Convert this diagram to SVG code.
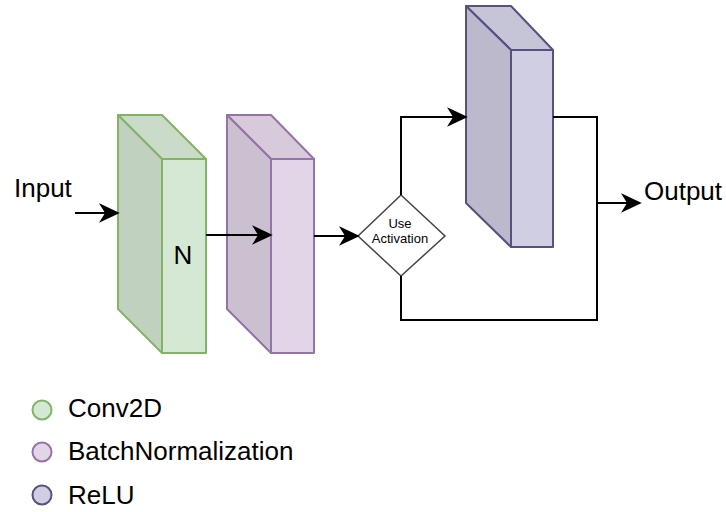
<svg xmlns="http://www.w3.org/2000/svg" width="726" height="512" viewBox="0 0 726 512">
<style>
text{font-family:"Liberation Sans",Arial,sans-serif;fill:#000}
.lbl{font-size:26px}
.small{font-size:13px}
.edge{fill:none;stroke:#000;stroke-width:2}
.g{stroke:#82b366;stroke-width:2;stroke-linejoin:round}
.p{stroke:#9673a6;stroke-width:2;stroke-linejoin:round}
.r{stroke:#56517e;stroke-width:2;stroke-linejoin:round}
</style>
<defs>
<marker id="arr" markerUnits="userSpaceOnUse" markerWidth="20" markerHeight="18" refX="18" refY="9" orient="auto" viewBox="0 0 20 18" overflow="visible">
<path d="M1,1 L18,9 L1,17 L6,9 z" fill="#000" stroke="#000" stroke-width="1.5" stroke-linejoin="miter"/>
</marker>
</defs>
<rect width="726" height="512" fill="#fff"/>
<text class="lbl" x="14" y="197">Input</text>
<text class="lbl" x="644" y="200">Output</text>
<g id="conv2d">
<polygon class="g" points="118,115 162,115 206,159 162,159" fill="#cadbc9"/>
<polygon class="g" points="118,115 162,159 162,353 118,309" fill="#c0d2bf"/>
<rect class="g" x="162" y="159" width="44" height="194" fill="#d5e8d4"/>
<text class="lbl" x="183" y="264" text-anchor="middle" font-size="24">N</text>
</g>
<g id="batchnorm">
<polygon class="p" points="227,115 271,115 314,159 271,159" fill="#d6cadb"/>
<polygon class="p" points="227,115 271,159 271,353 227,309" fill="#cbc0d0"/>
<rect class="p" x="271" y="159" width="43" height="194" fill="#e1d5e7"/>
</g>
<g id="decision">
<polygon points="358,236 401,195 445,236 401,276" fill="#fff" stroke="#444" stroke-width="1.5"/>
<text class="small" x="400" y="228" text-anchor="middle">Use</text>
<text class="small" x="400" y="243" text-anchor="middle">Activation</text>
</g>
<g id="relu">
<polygon class="r" points="466,6 511,6 553,50 511,50" fill="#c6c4d7"/>
<polygon class="r" points="466,6 511,50 511,247 466,203" fill="#bbb9cb"/>
<rect class="r" x="511" y="50" width="42" height="197" fill="#d0cee2"/>
</g>
<g id="connectors">
<path class="edge" d="M75,213 L118,213" marker-end="url(#arr)"/>
<path class="edge" d="M206,235 L271,235" marker-end="url(#arr)"/>
<path class="edge" d="M314,236 L358,236" marker-end="url(#arr)"/>
<path class="edge" d="M401,195 L401,117 L466,117" marker-end="url(#arr)"/>
<path class="edge" d="M553,117 L597,117 L597,203 L640,203" marker-end="url(#arr)"/>
<path class="edge" d="M401,276 L401,320 L597,320 L597,203"/>
</g>
<g id="legend">
<circle cx="42" cy="410" r="9.5" fill="#d5e8d4" stroke="#82b366" stroke-width="2"/>
<text class="lbl" x="68" y="417">Conv2D</text>
<circle cx="42" cy="452" r="9.5" fill="#e1d5e7" stroke="#9673a6" stroke-width="2"/>
<text class="lbl" x="68" y="460">BatchNormalization</text>
<circle cx="42" cy="495" r="9.5" fill="#d0cee2" stroke="#56517e" stroke-width="2"/>
<text class="lbl" x="68" y="504">ReLU</text>
</g>
</svg>
